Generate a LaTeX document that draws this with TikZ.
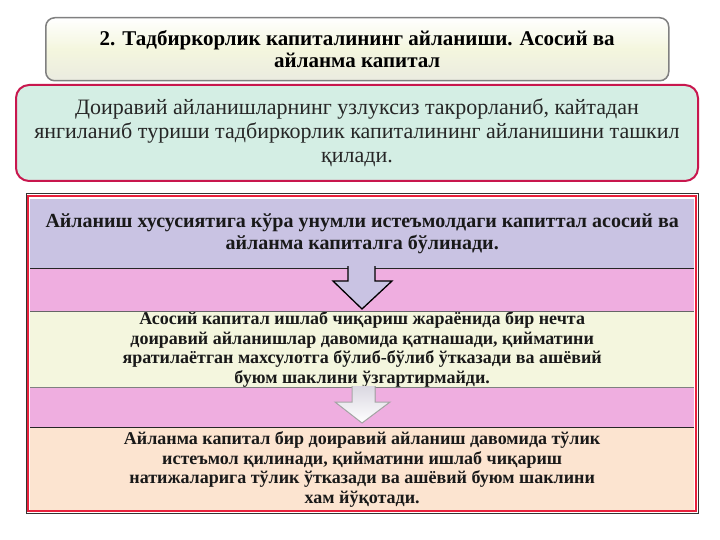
\documentclass[tikz,border=0pt]{standalone}
\usepackage{fontspec}
\setmainfont{LiberationSerif}[Extension=.ttf, UprightFont=*-Regular, BoldFont=*-Bold, ItalicFont=*-Italic, BoldItalicFont=*-BoldItalic]
\usetikzlibrary{positioning}
\definecolor{lilac}{HTML}{C9C3E3}
\definecolor{orchid}{HTML}{EFAEE0}
\definecolor{lemon}{HTML}{F4F6DE}
\definecolor{peach}{HTML}{FCE4D0}
\definecolor{mint}{HTML}{D4EEE4}
\definecolor{crimson}{HTML}{C8174E}
\definecolor{framered}{HTML}{E8203C}
\begin{document}
\begin{tikzpicture}[x=1pt,y=-1pt]
	\tikzset{band/.style = {shape=rectangle, anchor=north west, minimum width=664pt, inner sep=0pt, align=center, text=black!90, font=\bfseries\fontsize{18}{19.5}\selectfont},
		sep/.style = {line width=1.4pt, black!85}}
	\useasboundingbox[fill=white] (0,0) rectangle (720,540);
	\node[shape=rectangle, rounded corners=9pt, draw=gray, line width=1.5pt, top color=white, bottom color=lemon!80!gray!60, middle color=lemon, anchor=north west, minimum width=623pt, minimum height=63pt, align=center, font=\bfseries\fontsize{21}{22}\selectfont] (TITLE) at (45,17)
	{2. Тадбиркорлик капиталининг айланиши. Асосий ва \\
		айланма  капитал};
	\node[shape=rectangle, rounded corners=13pt, draw=crimson, line width=2pt, fill=mint, anchor=north west, minimum width=682pt, minimum height=96pt, align=center, text=black!85, font=\fontsize{22}{24}\selectfont] (CIRCUIT) at (15,84)
	{Доиравий айланишларнинг узлуксиз такрорланиб, кайтадан \\
		янгиланиб туриши тадбиркорлик капиталининг айланишини ташкил \\
		қилади.};
	\node[band, fill=lilac, minimum height=69pt, font=\bfseries\fontsize{20}{22}\selectfont] (DIVISION) at (30,199)
	{Айланиш хусусиятига кўра унумли истеъмолдаги капиттал асосий ва \\
		айланма капиталга бўлинади.};
	\node[band, fill=orchid, minimum height=43pt, below=0pt of DIVISION] (GAPA) {};
	\node[band, fill=lemon, minimum height=74pt, below=0pt of GAPA] (FIXED)
	{Асосий капитал ишлаб чиқариш жараёнида бир нечта \\
		доиравий айланишлар давомида қатнашади, қийматини \\
		яратилаётган махсулотга бўлиб-бўлиб  ўтказади ва ашёвий \\
		буюм шаклини ўзгартирмайди.};
	\node[band, fill=orchid, minimum height=40pt, below=0pt of FIXED] (GAPB) {};
	\node[band, fill=peach, minimum height=83pt, below=0pt of GAPB, text depth=4pt] (WORKING)
	{Айланма капитал бир доиравий айланиш давомида тўлик \\
		истеъмол  қилинади,  қийматини ишлаб чиқариш \\
		натижаларига тўлик ўтказади ва ашёвий буюм шаклини \\
		хам йўқотади.};
	\draw[sep] (DIVISION.south west) -- (DIVISION.south east);
	\draw[sep, line width=0.8pt, black!60] (GAPA.south west) -- (GAPA.south east);
	\draw[sep, line width=0.8pt, black!50] (FIXED.south west) -- (FIXED.south east);
	\draw[sep, line width=1pt] (GAPB.south west) -- (GAPB.south east);
	\draw[black!80, line width=1pt] (26,194) rectangle (698,513);
	\draw[framered, line width=1.8pt] (28,196) rectangle (696,511);
	\filldraw[fill=lilac, draw=black, line width=1.3pt, line join=miter] (348,266) -- (348,281) -- (333,281) -- (362,309) -- (392,281) -- (375,281) -- (375,266);
	\filldraw[top color=lilac!60!lemon, bottom color=white, draw=black!35, line width=1pt] (352,386) -- (352,402) -- (335,402) -- (362,423) -- (390,402) -- (375,402) -- (375,386);
\end{tikzpicture}
\end{document}
